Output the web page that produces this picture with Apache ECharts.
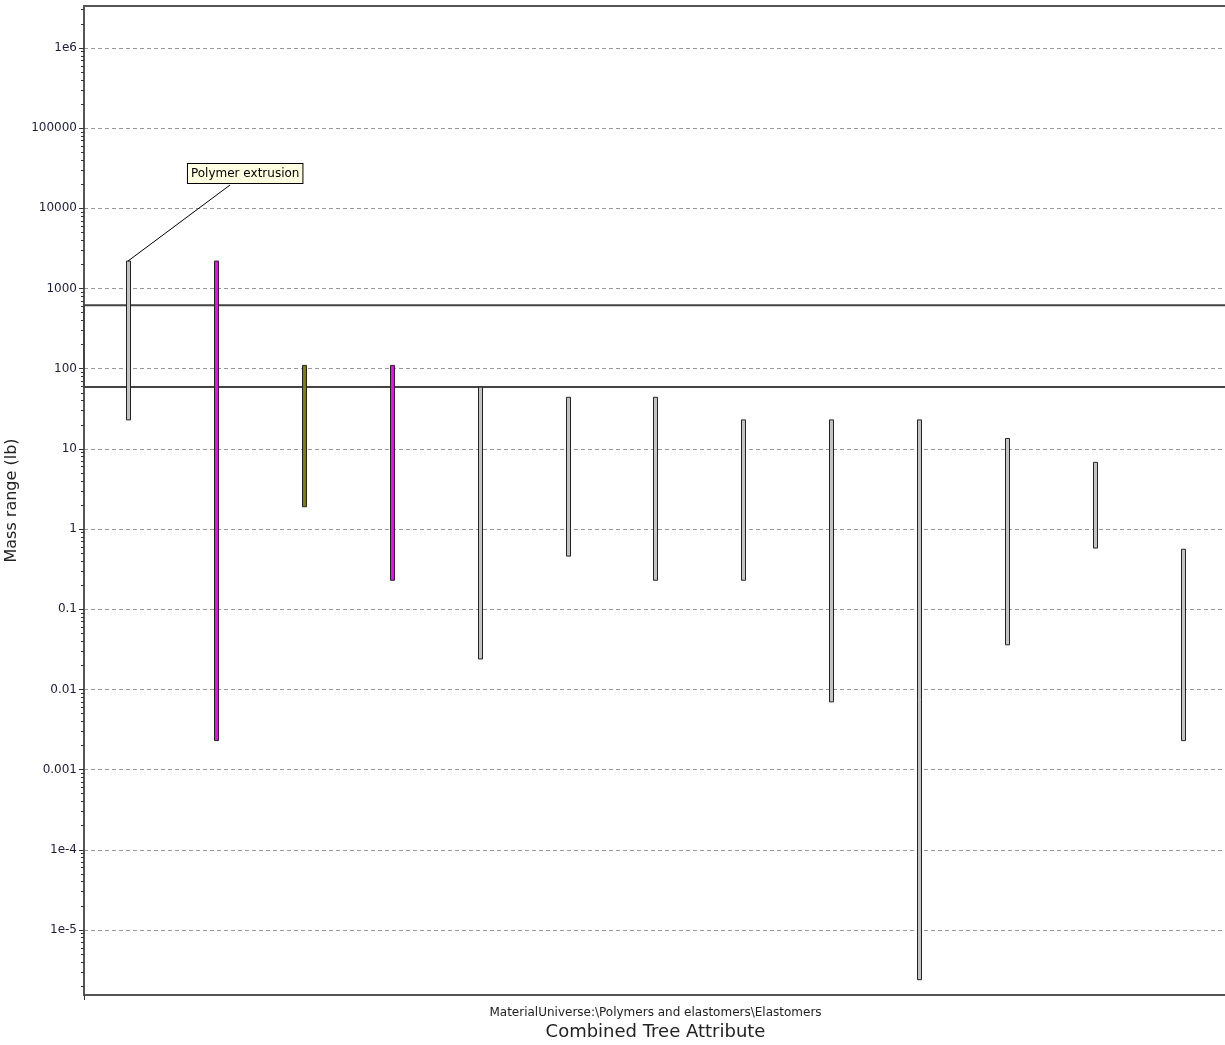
<!DOCTYPE html>
<html>
<head>
<meta charset="utf-8">
<title>Mass range (lb)</title>
<style>
    html, body {
        margin: 0;
        padding: 0;
        background: #ffffff;
    }

    #main {
        width: 1225px;
        height: 1045px;
    }
</style>
</head>
<body>
<div id="main"></div>
<script src="https://cdn.jsdelivr.net/npm/echarts@6/dist/echarts.min.js"></script>
<script>
    // 数据 (mass range, lb)
    var categories = ['E1', 'E2', 'E3', 'E4', 'E5', 'E6', 'E7', 'E8', 'E9', 'E10', 'E11', 'E12', 'E13'];
    var massHigh = [2200, 2200, 110, 110, 59, 44, 44, 23, 23, 23, 13.5, 6.8, 0.56];
    var massLow = [23, 0.0023, 1.9, 0.23, 0.024, 0.46, 0.23, 0.23, 0.007, 2.4e-6, 0.036, 0.58, 0.0023];
    var selectRange = [59, 620];
    var annotationIndex = 0;
    var annotationText = 'Polymer extrusion';
    var yTickValues = [1e-5, 1e-4, 0.001, 0.01, 0.1, 1, 10, 100, 1000, 10000, 100000, 1e6];
    var yTickLabels = ['1e-5', '1e-4', '0.001', '0.01', '0.1', '1', '10', '100', '1000', '10000', '100000', '1e6'];
    var yRange = [1.545e-6, 3.34e6];
    var xSubTitle = 'MaterialUniverse:\\Polymers and elastomers\\Elastomers';
    var xTitle = 'Combined Tree Attribute';
    var yTitle = 'Mass range (lb)';

    var font = 'DejaVu Sans';
    // highlighted bars
    var barFill = { 1: '#ff00ff', 2: '#808000', 3: '#ff00ff' };

    // the y axis is drawn in log10 space
    var lg = Math.log10;
    var majorTicks = yTickValues.map(lg);
    var minorTicks = [];
    for (var k = -6; k <= 6; k++) {
        for (var m = 2; m <= 9; m++) {
            var v = lg(m) + k;
            if (v > lg(yRange[0]) && v < lg(yRange[1])) minorTicks.push(v);
        }
    }

    var barData = categories.map(function (c, i) {
        return [i, lg(massHigh[i]), lg(massLow[i])];
    });

    function yLabel(value) {
        var i = majorTicks.findIndex(function (t) { return Math.abs(t - value) < 1e-6; });
        return i < 0 ? '' : yTickLabels[i];
    }

    function renderBar(params, api) {
        var idx = api.value(0);
        var top = api.coord([idx, api.value(1)]);
        var bottom = api.coord([idx, api.value(2)]);
        var w = 4;
        return {
            type: 'rect',
            shape: { x: Math.round(top[0]) - w / 2 + 0.5, y: top[1], width: w, height: bottom[1] - top[1] },
            style: {
                fill: barFill[params.dataIndex] || '#c4c4c4',
                stroke: '#222',
                lineWidth: 1
            }
        };
    }

    function renderNote(params, api) {
        var p = api.coord([api.value(0), api.value(1)]);
        return {
            type: 'group',
            children: [{
                type: 'line',
                shape: { x1: p[0], y1: p[1], x2: p[0] + 102, y2: p[1] - 76 },
                style: { stroke: '#000', lineWidth: 1 }
            }, {
                type: 'text',
                x: p[0] + 60,
                y: p[1] - 97,
                style: {
                    text: annotationText,
                    font: '12px "' + font + '"',
                    fill: '#000',
                    align: 'left',
                    verticalAlign: 'top',
                    backgroundColor: '#ffffe1',
                    borderColor: '#000',
                    borderWidth: 1,
                    padding: [4, 3, 3, 3]
                }
            }]
        };
    }

    var myChart = echarts.init(document.getElementById('main'));

    var option = {
        animation: false,
        backgroundColor: '#ffffff',
        grid: {
            left: 84,
            right: -2,
            top: 6,
            bottom: 50,
            outerBoundsMode: 'none',
            containLabel: false,
            show: true,
            borderColor: '#555',
            borderWidth: 2
        },
        xAxis: {
            type: 'category',
            data: categories,
            boundaryGap: true,
            axisLine: { onZero: false, lineStyle: { color: '#555', width: 2 } },
            axisTick: {
                show: true,
                length: 5,
                interval: function (index) { return index === 0; },
                lineStyle: { color: '#333' }
            },
            axisLabel: { show: false },
            splitLine: { show: false },
            name: '{a|' + xSubTitle + '}\n{b|' + xTitle + '}',
            nameLocation: 'middle',
            nameGap: 9,
            nameTextStyle: {
                verticalAlign: 'top',
                rich: {
                    a: { fontFamily: font, fontSize: 12, color: '#222', lineHeight: 17, align: 'center' },
                    b: { fontFamily: font, fontSize: 18, color: '#222', lineHeight: 22, align: 'center' }
                }
            }
        },
        yAxis: [{
            type: 'value',
            min: lg(yRange[0]),
            max: lg(yRange[1]),
            name: yTitle,
            nameLocation: 'middle',
            nameRotate: 90,
            nameGap: 49,
            nameTextStyle: { fontFamily: font, fontSize: 16, color: '#222' },
            axisLine: { show: true, onZero: false, lineStyle: { color: '#555', width: 2 } },
            axisTick: { show: true, length: 5, customValues: majorTicks, lineStyle: { color: '#333' } },
            axisLabel: {
                customValues: majorTicks,
                formatter: yLabel,
                fontFamily: font,
                fontSize: 12,
                color: '#1c1c3a',
                margin: 7
            },
            splitLine: { show: true, lineStyle: { type: [4, 3], color: '#999', width: 1 } }
        }, {
            // minor ticks only
            type: 'value',
            position: 'left',
            offset: 0,
            min: lg(yRange[0]),
            max: lg(yRange[1]),
            axisLine: { show: false, onZero: false },
            axisTick: { show: true, length: 3, customValues: minorTicks, lineStyle: { color: '#333' } },
            axisLabel: { show: false },
            splitLine: { show: false }
        }],
        series: [{
            name: 'Mass range',
            type: 'custom',
            renderItem: renderBar,
            encode: { x: 0, y: [1, 2] },
            data: barData,
            z: 2
        }, {
            name: 'Selection',
            type: 'line',
            data: [],
            z: 3,
            markArea: {
                silent: true,
                itemStyle: { color: 'rgba(0,0,0,0)', borderColor: '#444', borderWidth: 2 },
                data: [[{ yAxis: lg(selectRange[1]) }, { yAxis: lg(selectRange[0]) }]]
            }
        }, {
            name: 'Note',
            type: 'custom',
            renderItem: renderNote,
            clip: false,
            data: [[annotationIndex, lg(massHigh[annotationIndex])]],
            z: 4
        }]
    };

    myChart.setOption(option);
</script>
</body>
</html>
